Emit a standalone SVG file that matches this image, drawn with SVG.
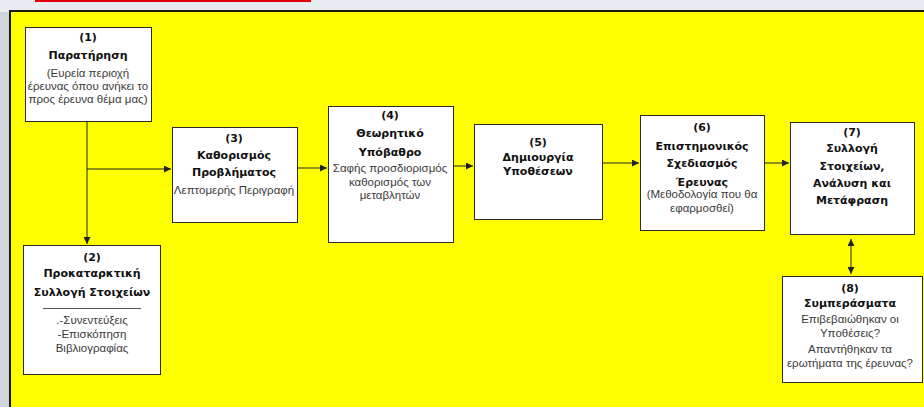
<svg xmlns="http://www.w3.org/2000/svg" width="924" height="407" viewBox="0 0 924 407">
<style>
.box{fill:#ffffff;stroke:#2a2a2a;stroke-width:1}
.t{font-family:"DejaVu Sans",Verdana,sans-serif;font-weight:bold;font-size:11px;fill:#111;text-anchor:middle}
.r{font-family:"Liberation Sans",Arial,sans-serif;font-size:11.5px;fill:#3a3a3a;text-anchor:middle}
.c{stroke:#222;stroke-width:1;fill:none}
</style>
<defs>
<marker id="ah" viewBox="0 0 10 10" refX="10" refY="5" markerWidth="7" markerHeight="7" orient="auto-start-reverse" markerUnits="userSpaceOnUse">
<path d="M0,0 L10,5 L0,10 z" fill="#222"/>
</marker>
</defs>
<rect x="0" y="0" width="924" height="407" fill="#e9edf1"/>
<rect x="0" y="12" width="9" height="395" fill="#cfd5dc"/>
<rect x="35" y="0" width="276" height="2" fill="#e00000"/>
<rect x="9" y="10" width="915" height="397" fill="#1a1a1a"/>
<rect x="11" y="12" width="913" height="395" fill="#ffff00"/>

<g id="connectors">
<line class="c" x1="87" y1="121" x2="87" y2="244" marker-end="url(#ah)"/>
<line class="c" x1="87" y1="169" x2="171" y2="169" marker-end="url(#ah)"/>
<line class="c" x1="297" y1="168" x2="327" y2="168" marker-end="url(#ah)"/>
<line class="c" x1="453" y1="166" x2="473" y2="166" marker-end="url(#ah)"/>
<line class="c" x1="602" y1="163" x2="639" y2="163" marker-end="url(#ah)"/>
<line class="c" x1="764" y1="163" x2="789" y2="163" marker-end="url(#ah)"/>
<line class="c" x1="851" y1="239" x2="851" y2="274" marker-start="url(#ah)" marker-end="url(#ah)"/>
</g>

<g id="node1">
<rect class="box" x="25.5" y="27.5" width="126" height="94"/>
<text class="t" x="88" y="41">(1)</text>
<text class="t" x="88" y="59">Παρατήρηση</text>
<text class="r" x="88" y="77">(Ευρεία περιοχή</text>
<text class="r" x="88" y="90">έρευνας όπου ανήκει το</text>
<text class="r" x="88" y="103">προς έρευνα θέμα μας)</text>
</g>

<g id="node2">
<rect class="box" x="23.5" y="245.5" width="137" height="129"/>
<text class="t" x="92" y="261">(2)</text>
<text class="t" x="92" y="277">Προκαταρκτική</text>
<text class="t" x="92" y="296">Συλλογή Στοιχείων</text>
<line x1="43" y1="308.5" x2="141" y2="308.5" stroke="#555" stroke-width="1"/>
<text class="r" x="92" y="324">.-Συνεντεύξεις</text>
<text class="r" x="92" y="338">-Επισκόπηση</text>
<text class="r" x="92" y="352">Βιβλιογραφίας</text>
</g>

<g id="node3">
<rect class="box" x="172.5" y="127.5" width="125" height="95"/>
<text class="t" x="234" y="142">(3)</text>
<text class="t" x="234" y="159">Καθορισμός</text>
<text class="t" x="234" y="176">Προβλήματος</text>
<text class="r" x="234" y="194">Λεπτομερής Περιγραφή</text>
</g>

<g id="node4">
<rect class="box" x="328.5" y="106.5" width="125" height="136"/>
<text class="t" x="390" y="119">(4)</text>
<text class="t" x="390" y="137">Θεωρητικό</text>
<text class="t" x="390" y="156">Υπόβαθρο</text>
<text class="r" x="390" y="172">Σαφής προσδιορισμός</text>
<text class="r" x="390" y="186">καθορισμός των</text>
<text class="r" x="390" y="199">μεταβλητών</text>
</g>

<g id="node5">
<rect class="box" x="474.5" y="124.5" width="128" height="95"/>
<text class="t" x="538" y="146">(5)</text>
<text class="t" x="538" y="161">Δημιουργία</text>
<text class="t" x="538" y="175">Υποθέσεων</text>
</g>

<g id="node6">
<rect class="box" x="640.5" y="115.5" width="124" height="115"/>
<text class="t" x="702" y="131">(6)</text>
<text class="t" x="702" y="150">Επιστημονικός</text>
<text class="t" x="702" y="167">Σχεδιασμός</text>
<text class="t" x="702" y="186">Έρευνας</text>
<text class="r" x="702" y="198">(Μεθοδολογία που θα</text>
<text class="r" x="702" y="212">εφαρμοσθεί)</text>
</g>

<g id="node7">
<rect class="box" x="790.5" y="122.5" width="124" height="112"/>
<text class="t" x="852" y="136">(7)</text>
<text class="t" x="852" y="152">Συλλογή</text>
<text class="t" x="852" y="170">Στοιχείων,</text>
<text class="t" x="852" y="187">Ανάλυση και</text>
<text class="t" x="852" y="204">Μετάφραση</text>
</g>

<g id="node8">
<rect class="box" x="782.5" y="276.5" width="140" height="106"/>
<text class="t" x="850" y="292">(8)</text>
<text class="t" x="850" y="307">Συμπεράσματα</text>
<text class="r" x="850" y="323">Επιβεβαιώθηκαν οι</text>
<text class="r" x="850" y="337">Υποθέσεις?</text>
<text class="r" x="850" y="353">Απαντήθηκαν τα</text>
<text class="r" x="850" y="367">ερωτήματα της έρευνας?</text>
</g>
</svg>
